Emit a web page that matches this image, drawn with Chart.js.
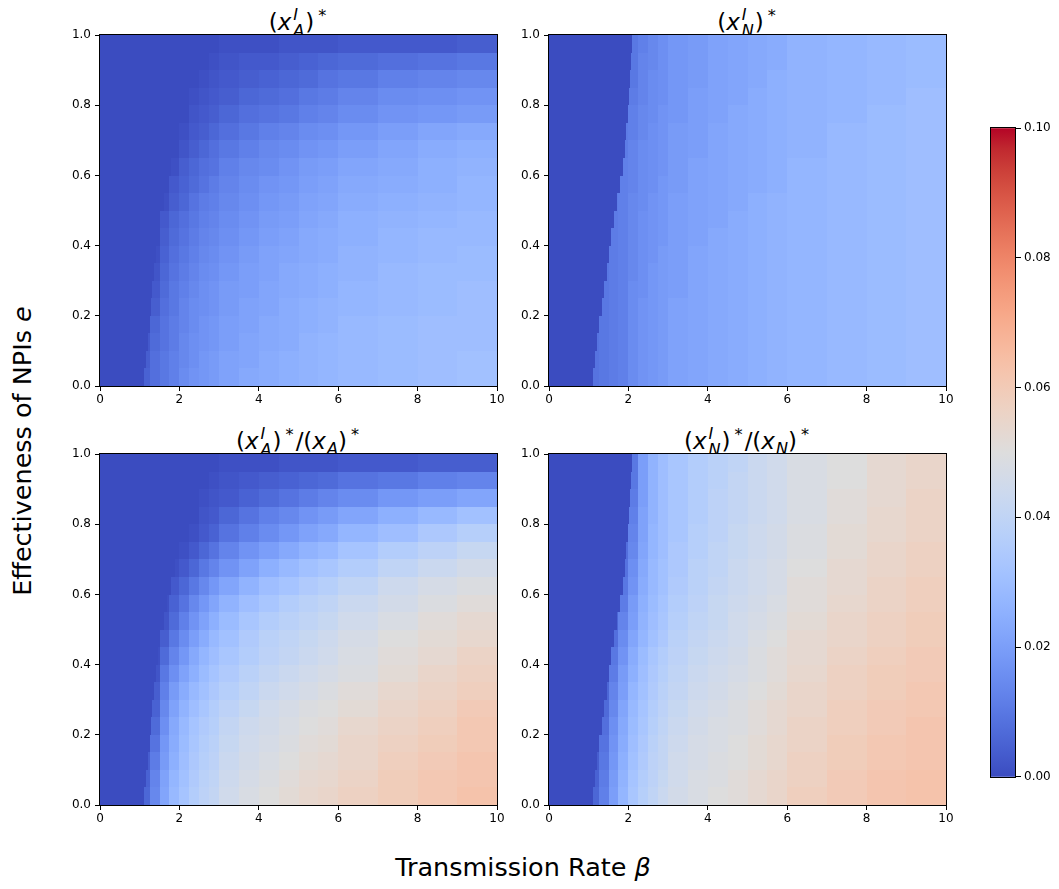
<!DOCTYPE html>
<html lang="en">
<head>
    <meta charset="UTF-8">
    <title>NPIs heatmaps</title>
    <script src="https://cdn.jsdelivr.net/npm/chart.js"></script>
    <style>
        body {
            margin: 0;
            width: 1059px;
            height: 889px;
            position: relative;
            background: #fff;
            font-family: 'DejaVu Sans', sans-serif;
            overflow: hidden;
        }
        canvas { position: absolute; }
        .m {
            position: absolute;
            font-size: 23px;
            line-height: 1;
            text-align: center;
            white-space: nowrap;
            color: #000;
        }
        .st {
            display: inline-block;
            vertical-align: -0.34em;
            font-size: 0.7em;
            line-height: 0.98;
            text-align: left;
            margin-left: 2px;
            margin-right: 1px;
        }
        .st span { display: block; }
        .sup { font-size: 0.7em; vertical-align: 0.6em; margin-left: 4px; margin-right: 2px; }
        .sub { font-size: 0.7em; vertical-align: -0.3em; margin-left: 1px; }
        .lbl {
            position: absolute;
            font-size: 25.5px;
            white-space: nowrap;
            color: #000;
        }
    </style>
</head>
<body>
    <div class="m" style="left:100px;top:7px;width:397px">(<i>x</i><span class="st"><span><i>I</i></span><span><i>A</i></span></span>)<span class="sup">*</span></div>
    <div class="m" style="left:549px;top:7px;width:397px">(<i>x</i><span class="st"><span><i>I</i></span><span><i>N</i></span></span>)<span class="sup">*</span></div>
    <div class="m" style="left:100px;top:426px;width:397px">(<i>x</i><span class="st"><span><i>I</i></span><span><i>A</i></span></span>)<span class="sup">*</span>/(<i>x</i><span class="sub"><i>A</i></span>)<span class="sup">*</span></div>
    <div class="m" style="left:549px;top:426px;width:397px">(<i>x</i><span class="st"><span><i>I</i></span><span><i>N</i></span></span>)<span class="sup">*</span>/(<i>x</i><span class="sub"><i>N</i></span>)<span class="sup">*</span></div>
    <div class="lbl" style="left:22px;top:451px;transform:translate(-50%,-50%) rotate(-90deg)">Effectiveness of NPIs <i>e</i></div>
    <div class="lbl" style="left:523px;top:867px;transform:translate(-50%,-50%)">Transmission Rate <i>β</i></div>

    <canvas id="tl" width="457" height="389"></canvas>
    <canvas id="tr" width="457" height="389"></canvas>
    <canvas id="bl" width="457" height="389"></canvas>
    <canvas id="br" width="457" height="389"></canvas>
    <canvas id="cbar" width="68" height="669"></canvas>
    <script>
        // cell edges of the grid
        const betaEdges = [0, 1, 1.25, 1.5, 1.75, 2, 2.25, 2.5, 2.75, 3, 3.5, 4, 4.5, 5, 5.5, 6, 7, 8, 9, 10];
        const eEdges = [0, 0.05, 0.1, 0.15, 0.2, 0.25, 0.3, 0.35, 0.4, 0.45, 0.5,
                        0.55, 0.6, 0.65, 0.7, 0.75, 0.8, 0.85, 0.9, 0.95, 1];

        // beta at which the dark (zero) region ends, one per e band
        const edgeA = [1.12, 1.16, 1.2, 1.24, 1.28, 1.32, 1.36, 1.41, 1.46, 1.52,
                       1.6, 1.7, 1.8, 1.9, 2.0, 2.1, 2.2, 2.3, 2.4, 2.5];
        const edgeN = [1.10, 1.15, 1.21, 1.27, 1.33, 1.39, 1.45, 1.51, 1.57, 1.64,
                       1.72, 1.80, 1.86, 1.91, 1.95, 1.98, 2.01, 2.04, 2.06, 2.08];
        const darkValue = 0;

        const xTicks = [0, 2, 4, 6, 8, 10];
        const yTicks = [0, 0.2, 0.4, 0.6, 0.8, 1.0];
        const cbarTicks = [0, 0.02, 0.04, 0.06, 0.08, 0.10];
        const vmin = 0, vmax = 0.1;

        // values in units of 0.001, one row per e band (bottom row first)
        const xaStar = [
            [0,5,8,10,12,15,17,18,19,21,23,24,25,26,27,28,29,30,31],
            [0,4,8,10,12,14,16,18,19,21,22,24,25,26,27,28,29,30,31],
            [0,3,7,9,11,14,16,17,18,20,22,23,24,26,27,28,29,30,30],
            [0,0,6,9,11,13,15,17,18,20,21,23,24,25,26,28,29,30,30],
            [0,0,4,8,10,13,15,16,17,19,21,22,24,25,26,27,28,29,30],
            [0,0,3,7,10,12,14,16,17,19,20,22,23,24,25,27,28,29,30],
            [0,0,2,6,9,11,13,15,16,18,20,21,23,24,25,26,28,29,29],
            [0,0,1,5,8,10,12,14,15,17,19,21,22,23,24,26,27,28,29],
            [0,0,0,4,7,9,11,13,14,16,18,20,21,23,24,25,27,28,28],
            [0,0,0,3,6,8,10,12,13,15,17,19,20,22,23,25,26,27,28],
            [0,0,0,1,4,6,9,11,12,14,16,18,19,21,22,24,25,26,27],
            [0,0,0,0,3,5,7,9,11,13,15,17,18,20,21,23,24,25,27],
            [0,0,0,0,1,4,6,8,9,12,14,15,17,19,20,22,23,25,26],
            [0,0,0,0,0,2,4,6,8,10,12,14,15,17,18,20,22,24,25],
            [0,0,0,0,0,1,3,4,6,8,10,12,13,15,16,18,20,22,23],
            [0,0,0,0,0,0,2,3,4,6,8,9,10,12,13,15,17,18,19],
            [0,0,0,0,0,0,1,2,3,4,6,7,8,10,11,13,15,16,17],
            [0,0,0,0,0,0,0,1,2,3,4,5,6,7,9,10,12,13,14],
            [0,0,0,0,0,0,0,0,1,2,3,3,4,5,6,7,8,9,10],
            [0,0,0,0,0,0,0,0,0,1,1,1,2,2,2,3,3,3,4]
        ];
        const xnStar = [
            [0,9,10,11,12,15,17,18,19,21,22,23,24,25,26,27,28,29,30],
            [0,9,10,11,12,15,17,18,19,21,22,23,24,25,26,27,28,29,30],
            [0,9,10,11,12,15,17,18,19,21,22,23,24,25,26,27,28,29,30],
            [0,0,10,11,12,15,17,18,19,21,22,23,24,25,26,27,28,29,30],
            [0,0,10,11,12,15,17,18,19,21,22,23,24,25,26,27,28,29,30],
            [0,0,10,11,12,15,16,18,19,20,22,23,24,25,26,27,28,29,30],
            [0,0,10,11,12,14,16,18,19,20,22,23,24,25,26,27,28,29,30],
            [0,0,0,11,12,14,16,17,19,20,22,23,24,25,26,27,28,29,30],
            [0,0,0,11,12,14,16,17,18,20,21,23,24,25,26,27,28,29,30],
            [0,0,0,11,12,14,16,17,18,20,21,22,24,25,26,27,28,29,30],
            [0,0,0,11,12,14,15,17,18,20,21,22,23,25,26,27,28,29,30],
            [0,0,0,0,12,13,15,16,18,19,21,22,23,24,25,27,28,29,30],
            [0,0,0,0,12,13,15,16,17,19,21,22,23,24,25,27,28,29,30],
            [0,0,0,0,11,13,15,16,17,19,20,22,23,24,25,26,28,29,30],
            [0,0,0,0,11,12,14,16,17,19,20,22,23,24,25,26,28,29,30],
            [0,0,0,0,10,12,14,15,17,18,20,21,23,24,25,26,27,29,30],
            [0,0,0,0,0,11,13,15,16,18,20,21,22,24,25,26,27,28,30],
            [0,0,0,0,0,10,13,15,16,18,19,21,22,23,25,26,27,28,29],
            [0,0,0,0,0,10,13,14,16,18,19,21,22,23,24,26,27,28,29],
            [0,0,0,0,0,10,12,14,16,18,19,21,22,23,24,26,27,28,29]
        ];
        const xaRatio = [
            [0,6,14,22,28,32,36,39,41,45,48,50,52,54,55,57,59,61,63],
            [0,5,13,21,27,31,35,38,40,44,47,49,51,53,54,56,59,61,62],
            [0,4,11,19,25,30,34,37,39,43,46,48,50,52,53,55,58,60,62],
            [0,0,9,18,24,29,33,36,38,42,45,47,49,51,52,55,57,59,61],
            [0,0,7,16,23,28,32,35,37,41,44,46,48,50,51,54,56,58,61],
            [0,0,5,14,21,26,30,33,36,39,42,45,47,49,50,52,55,57,60],
            [0,0,4,12,19,24,28,31,34,37,40,43,45,47,49,51,54,56,58],
            [0,0,2,10,16,21,25,29,32,35,38,41,43,45,47,49,52,55,57],
            [0,0,1,7,13,18,23,27,30,33,36,39,41,43,45,48,51,53,56],
            [0,0,0,4,10,15,20,24,28,31,35,38,40,42,44,47,50,52,54],
            [0,0,0,2,7,12,17,21,25,29,33,36,38,40,42,45,48,51,53],
            [0,0,0,1,5,9,14,18,22,26,30,33,36,38,40,43,46,49,51],
            [0,0,0,0,3,6,10,14,18,22,26,30,32,35,37,40,44,47,49],
            [0,0,0,0,1,3,6,10,13,17,21,25,28,31,33,36,40,43,46],
            [0,0,0,0,0,1,3,6,9,13,17,20,23,26,28,32,36,39,42],
            [0,0,0,0,0,0,1,3,5,9,12,15,18,21,23,27,30,34,37],
            [0,0,0,0,0,0,0,2,3,6,9,12,14,17,19,22,25,28,31],
            [0,0,0,0,0,0,0,1,2,3,5,7,9,11,13,15,18,20,22],
            [0,0,0,0,0,0,0,0,1,2,3,4,5,6,7,9,10,12,13],
            [0,0,0,0,0,0,0,0,0,1,1,1,2,2,2,3,3,4,4]
        ];
        const xnRatio = [
            [0,6,12,20,27,33,37,40,43,46,48,50,51,53,55,58,60,62,63],
            [0,5,11,19,26,32,36,39,42,45,48,49,51,53,55,57,60,62,63],
            [0,4,10,18,25,31,35,39,41,45,47,49,50,52,54,57,59,61,62],
            [0,0,9,17,24,30,34,38,41,44,47,48,50,52,54,56,59,61,62],
            [0,0,8,16,23,29,33,37,40,43,46,48,49,51,53,56,58,60,62],
            [0,0,7,14,22,28,32,36,39,42,45,47,49,51,53,55,58,60,61],
            [0,0,6,13,20,27,31,35,38,41,44,46,48,50,52,55,57,59,61],
            [0,0,0,11,19,25,30,34,37,40,43,45,47,49,51,54,57,59,60],
            [0,0,0,10,17,24,29,33,36,39,42,44,46,49,51,53,56,58,60],
            [0,0,0,8,15,22,27,31,34,38,41,43,45,48,50,53,55,57,59],
            [0,0,0,6,13,20,26,30,33,37,40,42,45,47,49,52,55,57,59],
            [0,0,0,0,11,19,25,29,32,36,39,42,44,46,48,51,54,56,58],
            [0,0,0,0,10,17,24,28,31,35,38,41,43,45,47,51,53,56,58],
            [0,0,0,0,9,16,23,28,31,34,38,40,43,45,47,50,53,55,57],
            [0,0,0,0,8,14,22,27,30,34,37,40,42,44,46,49,52,55,57],
            [0,0,0,0,7,13,21,27,30,33,37,39,42,44,46,49,52,54,56],
            [0,0,0,0,0,12,21,26,30,33,36,39,41,43,45,48,51,54,56],
            [0,0,0,0,0,11,20,26,30,33,36,39,41,43,45,48,51,53,56],
            [0,0,0,0,0,10,20,26,30,33,36,38,41,43,45,48,50,53,55],
            [0,0,0,0,0,10,20,26,30,33,36,38,40,43,45,48,50,53,55]
        ];
        const UNIT = 0.001;

        // coolwarm colour table
        const coolwarm = [
            [59,76,192],[68,90,204],[77,104,215],[87,117,225],[98,130,234],[108,142,241],
            [119,154,247],[130,165,251],[141,176,254],[152,185,255],[163,194,255],[174,201,253],
            [184,208,249],[194,213,244],[204,217,238],[213,219,230],[221,221,221],[229,216,209],
            [236,211,197],[241,204,185],[245,196,173],[247,187,160],[247,177,148],[247,166,135],
            [244,154,123],[241,141,111],[236,127,99],[229,112,88],[222,96,77],[213,80,66],
            [203,62,56],[192,40,47],[180,4,38]
        ];

        function colorFor(v) {
            let t = (v - vmin) / (vmax - vmin);
            if (!isFinite(t)) t = 0;
            t = Math.max(0, Math.min(1, t));
            const p = t * (coolwarm.length - 1);
            const i = Math.min(Math.floor(p), coolwarm.length - 2);
            const f = p - i;
            const a = coolwarm[i], b = coolwarm[i + 1];
            const c = a.map((x, k) => Math.round(x + (b[k] - x) * f));
            return 'rgb(' + c.join(',') + ')';
        }

        const heatPlugin = {
            id: 'heat',
            beforeDatasetsDraw(chart) {
                const opt = chart.options.plugins.heat;
                if (!opt || !opt.grid) return;
                const grid = opt.grid, edge = opt.edge;
                const ctx = chart.ctx, xs = chart.scales.x, ys = chart.scales.y;
                const px = v => Math.round(xs.getPixelForValue(v));
                const fill = (b0, b1, y0, y1, v) => {
                    const x0 = px(b0), x1 = px(b1);
                    if (x1 <= x0) return;
                    ctx.fillStyle = colorFor(v);
                    ctx.fillRect(x0, y0, x1 - x0, y1 - y0);
                };
                ctx.save();
                for (let i = 0; i < eEdges.length - 1; i++) {
                    const y0 = Math.round(ys.getPixelForValue(eEdges[i + 1]));
                    const y1 = Math.round(ys.getPixelForValue(eEdges[i]));
                    const b = edge[i];
                    for (let j = 0; j < betaEdges.length - 1; j++) {
                        const lo = betaEdges[j], hi = betaEdges[j + 1];
                        const v = grid[i][j] * UNIT;
                        if (hi <= b) {
                            fill(lo, hi, y0, y1, darkValue);
                        } else if (lo < b) {
                            fill(lo, b, y0, y1, darkValue);
                            fill(b, hi, y0, y1, v);
                        } else {
                            fill(lo, hi, y0, y1, v);
                        }
                    }
                }
                ctx.restore();
            },
            afterDatasetsDraw(chart) {
                const a = chart.chartArea, ctx = chart.ctx;
                ctx.save();
                ctx.strokeStyle = '#000';
                ctx.lineWidth = 1;
                ctx.strokeRect(Math.round(a.left) - 0.5, Math.round(a.top) - 0.5,
                    Math.round(a.right - a.left) + 1, Math.round(a.bottom - a.top) + 1);
                ctx.restore();
            }
        };

        const tickFont = { family: 'DejaVu Sans', size: 12 };

        // move/resize the canvas so the plot area lands on the wanted box
        function place(chart, cv, left, top, w, h) {
            let a = chart.chartArea;
            const dw = w - (a.right - a.left), dh = h - (a.bottom - a.top);
            if (Math.abs(dw) > 0.5 || Math.abs(dh) > 0.5) {
                chart.resize(Math.round(chart.width + dw), Math.round(chart.height + dh));
                a = chart.chartArea;
            }
            cv.style.left = Math.round(left - a.left) + 'px';
            cv.style.top = Math.round(top - a.top) + 'px';
        }

        function makePanel(id, left, top, grid, edge) {
            const cv = document.getElementById(id);
            const chart = new Chart(cv, {
                type: 'scatter',
                data: { datasets: [{ data: [] }] },
                options: {
                    responsive: false,
                    maintainAspectRatio: false,
                    animation: false,
                    devicePixelRatio: 1,
                    layout: { padding: { top: 8, right: 10, left: 0, bottom: 0 } },
                    plugins: {
                        legend: { display: false },
                        tooltip: { enabled: false },
                        heat: { grid: grid, edge: edge }
                    },
                    scales: {
                        x: {
                            type: 'linear', min: 0, max: 10,
                            afterBuildTicks: s => { s.ticks = xTicks.map(v => ({ value: v })); },
                            afterFit: s => { s.height = 30; },
                            border: { display: false },
                            grid: { drawOnChartArea: false, drawTicks: true, tickLength: 5, color: '#000' },
                            ticks: { color: '#000', font: tickFont, padding: 2, maxRotation: 0,
                                callback: v => String(v) }
                        },
                        y: {
                            type: 'linear', min: 0, max: 1,
                            afterBuildTicks: s => { s.ticks = yTicks.map(v => ({ value: v })); },
                            afterFit: s => { s.width = 50; },
                            border: { display: false },
                            grid: { drawOnChartArea: false, drawTicks: true, tickLength: 5, color: '#000' },
                            ticks: { color: '#000', font: tickFont, padding: 4,
                                callback: v => Number(v).toFixed(1) }
                        }
                    }
                },
                plugins: [heatPlugin]
            });
            place(chart, cv, left, top, 397, 351);
        }

        makePanel('tl', 100, 35, xaStar, edgeA);
        makePanel('tr', 549, 35, xnStar, edgeN);
        makePanel('bl', 100, 454, xaRatio, edgeA);
        makePanel('br', 549, 454, xnRatio, edgeN);

        // colour bar
        const cbarPlugin = {
            id: 'cbarFill',
            beforeDatasetsDraw(chart) {
                const ctx = chart.ctx, a = chart.chartArea, ys = chart.scales.y;
                const g = ctx.createLinearGradient(0, ys.getPixelForValue(vmin), 0, ys.getPixelForValue(vmax));
                coolwarm.forEach((c, k) => g.addColorStop(k / (coolwarm.length - 1), 'rgb(' + c.join(',') + ')'));
                ctx.save();
                ctx.fillStyle = g;
                ctx.fillRect(a.left, a.top, a.right - a.left, a.bottom - a.top);
                ctx.strokeStyle = '#000';
                ctx.lineWidth = 1;
                ctx.strokeRect(Math.round(a.left) + 0.5, Math.round(a.top) - 0.5,
                    Math.round(a.right - a.left) - 1, Math.round(a.bottom - a.top) + 1);
                ctx.restore();
            }
        };
        const cb = document.getElementById('cbar');
        const cbChart = new Chart(cb, {
            type: 'scatter',
            data: { datasets: [{ data: [] }] },
            options: {
                responsive: false,
                maintainAspectRatio: false,
                animation: false,
                devicePixelRatio: 1,
                layout: { padding: { top: 10, bottom: 10, left: 0, right: 0 } },
                plugins: { legend: { display: false }, tooltip: { enabled: false } },
                scales: {
                    x: { display: false, min: 0, max: 1 },
                    y: {
                        type: 'linear', position: 'right', min: vmin, max: vmax,
                        afterBuildTicks: s => { s.ticks = cbarTicks.map(v => ({ value: v })); },
                        afterFit: s => { s.width = 42; },
                        border: { display: false },
                        grid: { drawOnChartArea: false, drawTicks: true, tickLength: 5, color: '#000' },
                        ticks: { color: '#000', font: tickFont, padding: 3,
                            callback: v => Number(v).toFixed(2) }
                    }
                }
            },
            plugins: [cbarPlugin]
        });
        place(cbChart, cb, 990, 128, 26, 649);
    </script>
</body>
</html>
